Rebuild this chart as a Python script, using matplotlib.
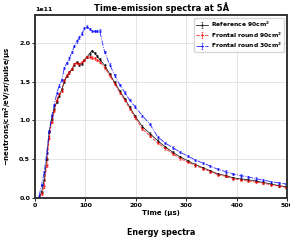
import matplotlib
matplotlib.use("Agg")
import matplotlib.pyplot as plt
import numpy as np

plt.rcParams['font.family'] = ['DejaVu Sans']
plt.rcParams['font.weight'] = 'bold'

time_us = [8, 13, 18, 23, 28, 33, 38, 43, 48, 53, 58, 63, 68, 73, 78, 83, 88, 93, 98,
           103, 108, 113, 118, 123, 128, 138, 148, 158, 168, 178, 188, 198, 213, 228,
           243, 258, 273, 288, 303, 318, 333, 348, 363, 378, 393, 408, 423, 438, 453,
           468, 483, 498]

reference_90 = [0.0, 0.08, 0.23, 0.5, 0.85, 1.02, 1.15, 1.24, 1.32, 1.40, 1.50, 1.57, 1.62,
                1.66, 1.72, 1.75, 1.72, 1.73, 1.78, 1.82, 1.86, 1.90, 1.87, 1.83, 1.79,
                1.71, 1.60, 1.49, 1.38, 1.28, 1.17, 1.06, 0.92, 0.83, 0.74, 0.66, 0.59,
                0.53, 0.48, 0.43, 0.39, 0.35, 0.31, 0.29, 0.26, 0.245, 0.235, 0.22, 0.20,
                0.18, 0.16, 0.145]

frontal_90 = [0.0, 0.05, 0.15, 0.42, 0.78, 0.98, 1.12, 1.27, 1.34, 1.38, 1.52, 1.58, 1.62,
              1.66, 1.73, 1.74, 1.73, 1.75, 1.78, 1.82, 1.82, 1.81, 1.80, 1.78, 1.76,
              1.68, 1.58, 1.47, 1.36, 1.26, 1.15, 1.04, 0.89, 0.80, 0.71, 0.64, 0.57,
              0.51, 0.46, 0.42, 0.38, 0.34, 0.30, 0.28, 0.25, 0.23, 0.22, 0.205, 0.19,
              0.17, 0.155, 0.135]

frontal_30 = [0.03, 0.17, 0.33, 0.58, 0.86, 1.06, 1.20, 1.35, 1.45, 1.52, 1.68, 1.74, 1.80,
              1.88, 1.96, 2.02, 2.07, 2.12, 2.19, 2.21, 2.18, 2.15, 2.15, 2.15, 2.16,
              1.88, 1.72, 1.58, 1.46, 1.36, 1.26, 1.18, 1.06, 0.95, 0.79, 0.71, 0.65,
              0.59, 0.54, 0.49, 0.45, 0.41, 0.37, 0.34, 0.31, 0.29, 0.27, 0.25, 0.23,
              0.21, 0.195, 0.18]

labels = ["Reference 90cm$^2$", "Frontal round 90cm$^2$", "Frontal round 30cm$^2$"]
colors = ["black", "red", "blue"]
styles = ["-", "--", "-."]

fig = plt.figure(figsize=(2.9, 2.4), dpi=100)
ax = fig.add_axes([0.121, 0.175, 0.869, 0.7625])

t = np.array(time_us)
for vals, lab, c, ls in zip([reference_90, frontal_90, frontal_30], labels, colors, styles):
    v = np.array(vals) * 1e11
    ax.errorbar(t, v, yerr=0.015e11, color=c, ls=ls, lw=0.6, marker='.', ms=1.0,
                elinewidth=0.4, capsize=0.8, capthick=0.4, alpha=0.85, label=lab)

ax.set_xlim(0, 500)
ax.set_ylim(0, 2.36e11)
ax.set_xticks([0, 100, 200, 300, 400, 500])
ax.set_yticks([0, 0.5e11, 1.0e11, 1.5e11, 2.0e11])
ax.grid(True, color='#e0e0e0', lw=0.6)
ax.tick_params(labelsize=4.5, width=0.6, length=2, pad=1.5)
for lab in ax.get_xticklabels() + ax.get_yticklabels():
    lab.set_fontweight('bold')
ax.yaxis.get_offset_text().set_fontsize(4.5)
ax.yaxis.get_offset_text().set_fontweight('bold')
for s in ax.spines.values():
    s.set_linewidth(1.4)
    s.set_color('#333333')

ax.set_title("Time-emission spectra at 5Å", fontsize=6, fontweight='bold', pad=3)
ax.set_xlabel("Time (μs)", fontsize=5, fontweight='bold', labelpad=1.5)
ax.set_ylabel("~neutrons/cm$^2$/eV/sr/pulse/μs", fontsize=5, fontweight='bold', labelpad=4)

leg = ax.legend(loc='upper right', fontsize=4.3, frameon=True, handlelength=2.0,
                borderpad=0.3, labelspacing=0.2, handletextpad=0.5)
for txt in leg.get_texts():
    txt.set_fontweight('bold')

fig.text(0.555, 0.033, "Energy spectra", ha='center', va='center', fontsize=5.8, fontweight='bold')

fig.savefig("out.png", dpi=100)
